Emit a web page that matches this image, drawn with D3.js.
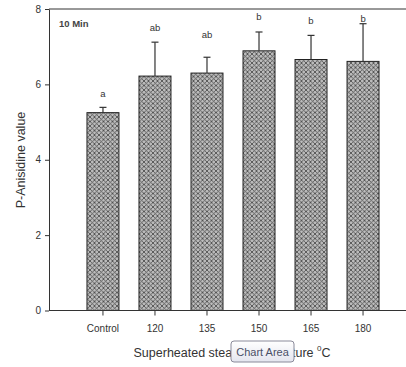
<!DOCTYPE html>
<html><head><meta charset="utf-8">
<script src="https://cdn.jsdelivr.net/npm/d3@7/dist/d3.min.js"></script>
<style>body{margin:0;background:#fff;} svg{display:block;}</style>
</head><body>
<svg id="c" width="406" height="367"></svg>
<script>
const categories = ["Control","120","135","150","165","180"];
const values = [5.25, 6.22, 6.30, 6.89, 6.66, 6.61];
const errors = [0.14, 0.90, 0.42, 0.50, 0.64, 1.00];
const letters = ["a","ab","ab","b","b","b"];
const letterLevels = [5.66, 7.42, 7.22, 7.71, 7.60, 7.66];
const yTicks = [0,2,4,6,8];

const svg = d3.select("#c");
const font = "Liberation Sans, Arial, sans-serif";
const axisColor = "#333";

const x = d3.scaleBand().domain(categories).range([49, 417]).paddingInner(0.385).paddingOuter(0.73);
const y = d3.scaleLinear().domain([0, 8]).range([310.5, 9]);

const defs = svg.append("defs");
const pat = defs.append("pattern").attr("id","hatch").attr("patternUnits","userSpaceOnUse")
  .attr("width",4.5).attr("height",4.5);
pat.append("rect").attr("width",4.5).attr("height",4.5).attr("fill","#bdbdbd");
pat.append("path").attr("d","M0,0 L4.5,4.5 M4.5,0 L0,4.5 M-1,3.5 L1,5.5 M3.5,-1 L5.5,1 M3.5,5.5 L5.5,3.5 M-1,1 L1,-1")
  .attr("stroke","#444").attr("stroke-width",0.8);

// bars
svg.append("g").selectAll("rect").data(categories).join("rect")
  .attr("x", d => x(d)).attr("width", x.bandwidth())
  .attr("y", (d,i) => y(values[i])).attr("height", (d,i) => y(0) - y(values[i]))
  .attr("fill","url(#hatch)").attr("stroke","#222").attr("stroke-width",1);

// error bars
const eg = svg.append("g").attr("stroke","#333").attr("stroke-width",1.2);
categories.forEach((c,i) => {
  const cx = x(c) + x.bandwidth()/2;
  eg.append("line").attr("x1",cx).attr("x2",cx).attr("y1",y(values[i])).attr("y2",y(values[i]+errors[i]));
  eg.append("line").attr("x1",cx-3.5).attr("x2",cx+3.5).attr("y1",y(values[i]+errors[i])).attr("y2",y(values[i]+errors[i]));
});

// letters
svg.append("g").selectAll("text").data(categories).join("text")
  .attr("x", d => x(d) + x.bandwidth()/2)
  .attr("y", (d,i) => y(letterLevels[i]))
  .attr("text-anchor","middle").attr("font-family",font).attr("font-size",9.5).attr("fill","#333")
  .text((d,i) => letters[i]);

// y axis
const yAxis = d3.axisLeft(y).tickValues(yTicks).tickSize(4).tickSizeOuter(0).tickFormat(d3.format("d"));
const gy = svg.append("g").attr("transform","translate(49,0)").call(yAxis);
gy.select(".domain").attr("stroke",axisColor);
gy.selectAll(".tick line").attr("stroke",axisColor);
gy.selectAll(".tick text").attr("font-family",font).attr("font-size",10).attr("fill","#333").attr("x",-8);

// x axis
const xAxis = d3.axisBottom(x).tickSize(5).tickSizeOuter(0);
const gx = svg.append("g").attr("transform",`translate(0,${y(0)})`).call(xAxis);
gx.select(".domain").remove();
gx.selectAll(".tick line").attr("stroke",axisColor);
gx.selectAll(".tick text").attr("font-family",font).attr("font-size",10).attr("fill","#333").attr("dy","1.35em");

// frame lines
svg.append("line").attr("x1",49).attr("x2",406).attr("y1",y(0)).attr("y2",y(0)).attr("stroke",axisColor);
svg.append("line").attr("x1",49).attr("x2",406).attr("y1",y(8)).attr("y2",y(8)).attr("stroke",axisColor);

// 10 Min
svg.append("text").attr("x",59).attr("y",27).attr("font-family",font).attr("font-size",9.5)
  .attr("font-weight","bold").attr("fill","#444").text("10 Min");

// y label
svg.append("text").attr("transform","translate(25,160) rotate(-90)").attr("text-anchor","middle")
  .attr("font-family",font).attr("font-size",12.5).attr("fill","#333").text("P-Anisidine value");

// x label
const xl = svg.append("text").attr("x",232).attr("y",357).attr("text-anchor","middle")
  .attr("font-family",font).attr("font-size",12.5).attr("fill","#333");
xl.append("tspan").text("Superheated steam temperature ");
xl.append("tspan").attr("font-size",8).attr("dy",-6).text("0");
xl.append("tspan").attr("dy",6).text("C");

// tooltip
const tg = svg.append("g");
const grad = defs.append("linearGradient").attr("id","tg").attr("x1",0).attr("x2",0).attr("y1",0).attr("y2",1);
grad.append("stop").attr("offset","0").attr("stop-color","#ffffff");
grad.append("stop").attr("offset","1").attr("stop-color","#e4e5ee");
tg.append("rect").attr("x",231).attr("y",341).attr("width",63).attr("height",21).attr("rx",3)
  .attr("fill","url(#tg)").attr("stroke","#8a8a9a");
tg.append("text").attr("x",262.5).attr("y",355.5).attr("text-anchor","middle").attr("font-family",font)
  .attr("font-size",11).attr("fill","#4a4f66").text("Chart Area");
</script>
</body></html>
